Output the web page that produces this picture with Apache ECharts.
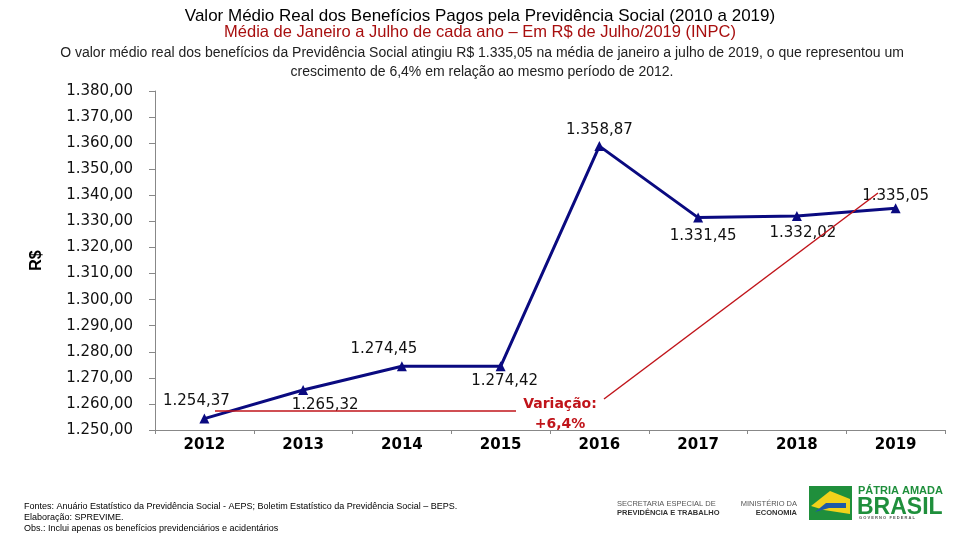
<!DOCTYPE html>
<html><head><meta charset="utf-8">
<script src="https://cdn.jsdelivr.net/npm/echarts@6/dist/echarts.min.js"></script>
<style>html,body{margin:0;padding:0;background:#fff}#c{width:960px;height:540px}</style>
</head><body><div id="c"></div>
<script>
const years = ['2012','2013','2014','2015','2016','2017','2018','2019'];
const values = [1254.37, 1265.32, 1274.45, 1274.42, 1358.87, 1331.45, 1332.02, 1335.05];
const yMin = 1250, yMax = 1380, yStep = 10;
// label placement per point (style only)
const labelOffsets = [[-8,-17],[22,15],[-18,-17],[4,15],[0,-16],[5,19],[6,17],[0,-12]];

function fmt(v, d){
  const s = v.toFixed(d);
  let [i, f] = s.split('.');
  i = i.replace(/\B(?=(\d{3})+(?!\d))/g, '.');
  return f ? i + ',' + f : i;
}

const chart = echarts.init(document.getElementById('c'));
const font = '"Liberation Sans", Arial, sans-serif';
const wide = '"DejaVu Sans", Verdana, sans-serif';
const navy = '#0a0a80';
const red = '#c0141a';
const green = '#1f8f3c';

chart.setOption({
  animation: false,
  textStyle: {fontFamily: font},
  grid: {left: 155, right: 15, top: 91, bottom: 110},
  xAxis: {
    type: 'category', data: years, boundaryGap: true,
    axisLine: {lineStyle: {color: '#888', width: 1}},
    axisTick: {show: true, length: 4, lineStyle: {color: '#888'}},
    axisLabel: {color: '#000', fontSize: 15, fontWeight: 'bold', margin: 8, fontFamily: wide}
  },
  yAxis: {
    type: 'value', min: yMin, max: yMax, interval: yStep,
    name: 'R$', nameLocation: 'middle', nameGap: 110, nameRotate: 90,
    nameTextStyle: {fontSize: 16, fontWeight: 'bold', color: '#000', fontFamily: font},
    axisLine: {show: true, lineStyle: {color: '#888'}},
    axisTick: {show: true, length: 6, lineStyle: {color: '#888'}},
    splitLine: {show: false},
    axisLabel: {color: '#111', fontSize: 15, margin: 22, fontFamily: wide, formatter: v => fmt(v, 2)}
  },
  series: [{
    type: 'line',
    data: values.map((v, i) => ({
      value: v,
      label: {offset: labelOffsets[i]}
    })),
    symbol: 'triangle', symbolSize: 10,
    lineStyle: {color: navy, width: 3},
    itemStyle: {color: navy},
    label: {show: true, position: 'inside', color: '#111', fontSize: 15, fontFamily: wide,
      formatter: p => fmt(p.value, 2)},
    z: 3
  }],
  graphic: [
    {type: 'text', x: 480, y: 8, style: {text: 'Valor Médio Real dos Benefícios Pagos pela Previdência Social (2010 a 2019)', font: '17px ' + font, fill: '#000', align: 'center'}},
    {type: 'text', x: 480, y: 24, style: {text: 'Média de Janeiro a Julho de cada ano – Em R$ de Julho/2019 (INPC)', font: '16.5px ' + font, fill: '#a80f0f', align: 'center'}},
    {type: 'text', x: 482, y: 44, style: {text: 'O valor médio real dos benefícios da Previdência Social atingiu R$ 1.335,05 na média de janeiro a julho de 2019, o que representou um\ncrescimento de 6,4% em relação ao mesmo período de 2012.', font: '14px ' + font, fill: '#222', align: 'center', lineHeight: 19}},
    // annotation
    {type: 'line', shape: {x1: 215, y1: 411, x2: 516, y2: 411}, style: {stroke: red, lineWidth: 1.5}, z: 10},
    {type: 'line', shape: {x1: 604, y1: 399, x2: 878, y2: 193}, style: {stroke: red, lineWidth: 1.5}, z: 10},
    {type: 'text', x: 560, y: 394, style: {text: 'Variação:\n+6,4%', font: 'bold 14px ' + wide, fill: red, align: 'center', lineHeight: 20}, z: 10},
    // footer
    {type: 'text', x: 24, y: 501, style: {text: 'Fontes: Anuário Estatístico da Previdência Social - AEPS; Boletim Estatístico da Previdência Social – BEPS.\nElaboração: SPREVIME.\nObs.: Inclui apenas os benefícios previdenciários e acidentários', font: '9px ' + font, fill: '#000', lineHeight: 11}},
    {type: 'text', x: 617, y: 500, style: {text: 'SECRETARIA ESPECIAL DE', font: '7.5px ' + font, fill: '#555'}},
    {type: 'text', x: 617, y: 509, style: {text: 'PREVIDÊNCIA E TRABALHO', font: 'bold 7.5px ' + font, fill: '#333'}},
    {type: 'text', x: 797, y: 500, style: {text: 'MINISTÉRIO DA', font: '7.5px ' + font, fill: '#555', align: 'right'}},
    {type: 'text', x: 797, y: 509, style: {text: 'ECONOMIA', font: 'bold 7.5px ' + font, fill: '#333', align: 'right'}},
    {type: 'rect', shape: {x: 809, y: 486, width: 43, height: 34}, style: {fill: green}},
    {type: 'polygon', shape: {points: [[811,506],[830,491],[850,499],[850,514],[824,510]]}, style: {fill: '#f2d21b'}},
    {type: 'polygon', shape: {points: [[815,512],[826,503],[846,503],[846,508],[829,508]]}, style: {fill: '#1f5aa6'}},
    {type: 'text', x: 858, y: 485, style: {text: 'PÁTRIA AMADA', font: 'bold 11px ' + font, fill: green}},
    {type: 'text', x: 857, y: 496, style: {text: 'BRASIL', font: 'bold 23px ' + font, fill: green}},
    {type: 'text', x: 859, y: 516, style: {text: 'G O V E R N O   F E D E R A L', font: 'bold 4px ' + font, fill: '#555'}}
  ]
});
</script></body></html>
